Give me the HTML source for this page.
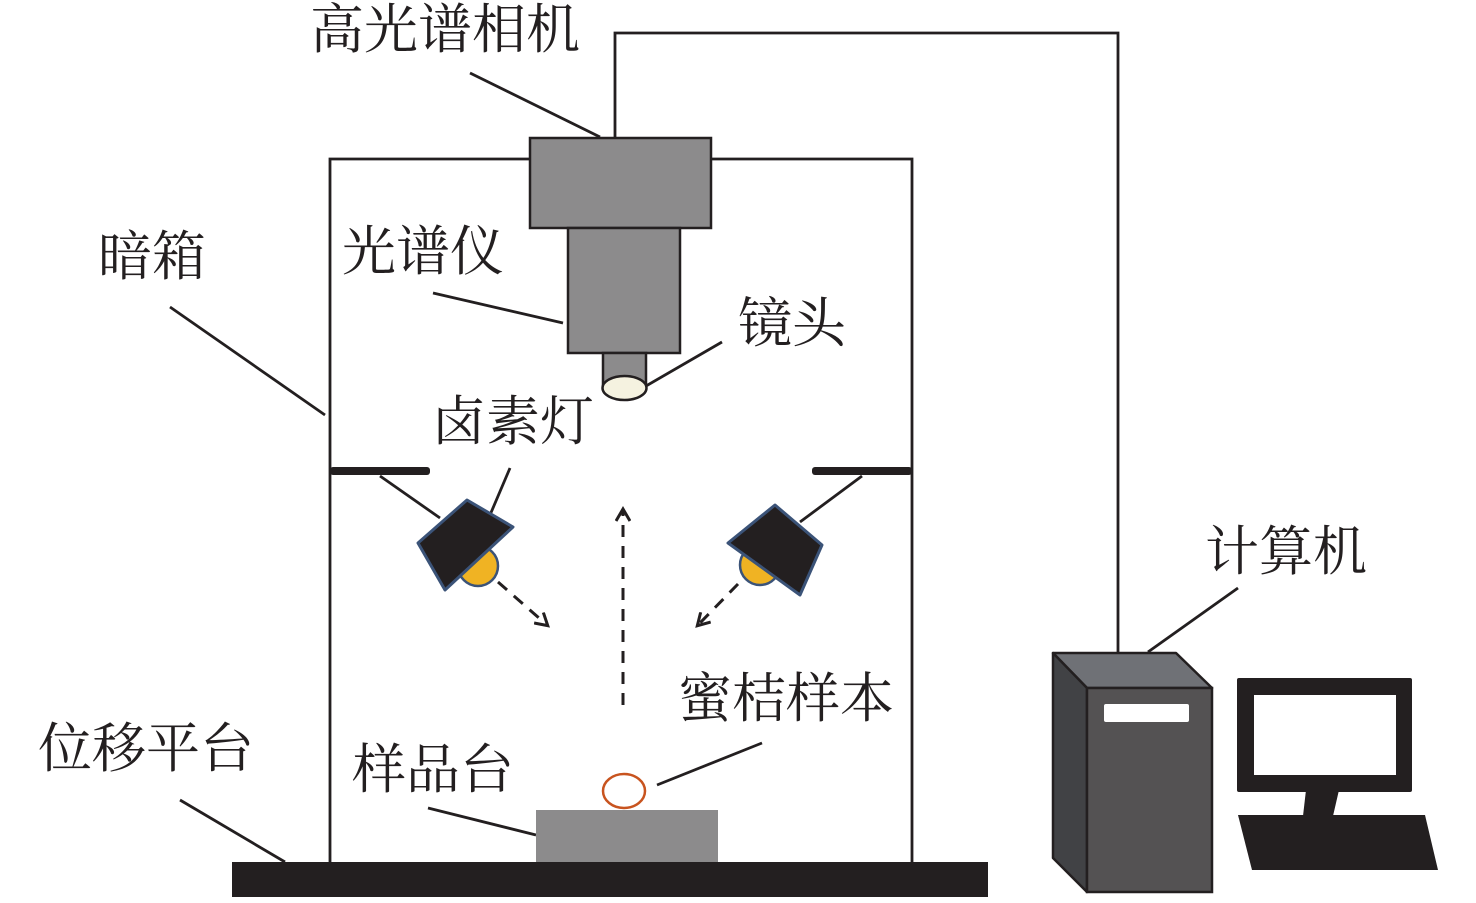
<!DOCTYPE html>
<html><head><meta charset="utf-8"><style>
html,body{margin:0;padding:0;background:#fff;}
svg text{font-family:"Liberation Serif","Noto Serif CJK SC","Noto Sans CJK SC",serif;fill:#231f20;}
</style></head><body>
<svg width="1476" height="898" viewBox="0 0 1476 898" xmlns="http://www.w3.org/2000/svg">
<defs>
<marker id="ah" markerWidth="16" markerHeight="16" refX="12" refY="8" orient="auto" markerUnits="userSpaceOnUse">
<path d="M1,1 L13,8 L1,15" fill="none" stroke="#231f20" stroke-width="3"/>
</marker>
</defs>
<g stroke="#231f20" stroke-width="2.8" fill="none">
<polyline points="530,159 330,159 330,862"/>
<polyline points="711,159 912,159 912,862"/>
<polyline points="615,138 615,33 1118,33 1118,653"/>
<line x1="470" y1="73" x2="600" y2="137"/>
<line x1="433" y1="293" x2="563" y2="323"/>
<line x1="170" y1="307" x2="325" y2="415"/>
<line x1="722" y1="342" x2="646" y2="386"/>
<line x1="1238" y1="588" x2="1148" y2="652"/>
<line x1="762" y1="743" x2="657" y2="785"/>
<line x1="180" y1="800" x2="285" y2="862"/>
<line x1="428" y1="808" x2="536" y2="835"/>
<line x1="380" y1="476" x2="440" y2="518"/>
<line x1="510" y1="468" x2="490" y2="515"/>
<line x1="862" y1="476" x2="800" y2="522"/>
</g>
<rect x="330" y="467" width="100" height="8" rx="3" fill="#231f20"/>
<rect x="812" y="467" width="100" height="8" rx="3" fill="#231f20"/>
<rect x="530" y="138" width="181" height="90" fill="#8c8b8c" stroke="#231f20" stroke-width="2.5"/>
<rect x="568" y="228" width="112" height="125" fill="#8c8b8c" stroke="#231f20" stroke-width="2.5"/>
<rect x="603" y="353" width="43" height="35" fill="#8c8b8c" stroke="#231f20" stroke-width="2.5"/>
<ellipse cx="624.5" cy="388" rx="22" ry="12" fill="#f5f2e0" stroke="#231f20" stroke-width="2.5"/>
<circle cx="478" cy="566" r="20" fill="#f0b323" stroke="#3b5378" stroke-width="2.5"/>
<polygon points="467,500 513,527 445,590 418,543" fill="#231f20" stroke="#3b5378" stroke-width="3" stroke-linejoin="round"/>
<circle cx="760" cy="565" r="20" fill="#f0b323" stroke="#3b5378" stroke-width="2.5"/>
<polygon points="775,505 822,545 800,595 728,543" fill="#231f20" stroke="#3b5378" stroke-width="3" stroke-linejoin="round"/>
<g stroke="#231f20" stroke-width="3" stroke-dasharray="12,9" fill="none">
<line x1="498" y1="582" x2="547" y2="625" marker-end="url(#ah)"/>
<line x1="738" y1="584" x2="698" y2="625" marker-end="url(#ah)"/>
<line x1="623" y1="705" x2="623" y2="510" marker-end="url(#ah)"/>
</g>
<rect x="536" y="810" width="182" height="52" fill="#8c8b8c"/>
<ellipse cx="624" cy="791" rx="21" ry="17" fill="#fff" stroke="#c8541f" stroke-width="2.5"/>
<rect x="232" y="862" width="756" height="35" fill="#231f20"/>
<polygon points="1053,653 1176,653 1212,688 1087,688" fill="#6f7176" stroke="#231f20" stroke-width="2.5" stroke-linejoin="round"/>
<polygon points="1053,653 1087,688 1087,892 1053,858" fill="#414245" stroke="#231f20" stroke-width="2.5" stroke-linejoin="round"/>
<rect x="1087" y="688" width="125" height="204" fill="#545253" stroke="#231f20" stroke-width="2.5"/>
<rect x="1104" y="704" width="85" height="18" rx="2" fill="#fff"/>
<rect x="1237" y="678" width="175" height="114" rx="2" fill="#231f20"/>
<rect x="1254" y="695" width="142" height="80" fill="#fff"/>
<polygon points="1306,790 1339,790 1333,816 1303,816" fill="#231f20"/>
<polygon points="1238,815 1425,815 1438,870 1252,870" fill="#231f20"/>
<g font-size="54">
<text x="310" y="48">高光谱相机</text>
<text x="342" y="270">光谱仪</text>
<text x="98" y="275">暗箱</text>
<text x="738" y="342">镜头</text>
<text x="432" y="440">卤素灯</text>
<text x="1205" y="570">计算机</text>
<text x="678" y="717">蜜桔样本</text>
<text x="38" y="767">位移平台</text>
<text x="352" y="788">样品台</text>
</g>
</svg>
</body></html>
